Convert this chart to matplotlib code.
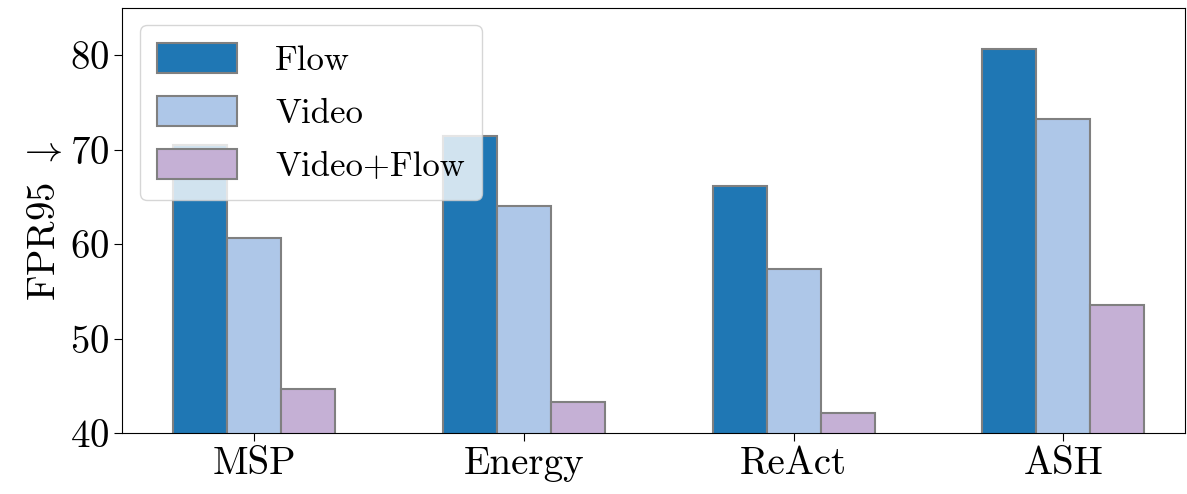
import numpy as np
import matplotlib
matplotlib.use('Agg')
import matplotlib.pyplot as plt

plt.rcParams['font.family'] = 'serif'
plt.rcParams['font.serif'] = ['cmr10']
plt.rcParams['mathtext.fontset'] = 'cm'
plt.rcParams['axes.formatter.use_mathtext'] = True

methods = ['MSP', 'Energy', 'ReAct', 'ASH']
flow = [70.5, 71.5, 66.2, 80.7]
video = [60.7, 64.0, 57.4, 73.2]
video_flow = [44.7, 43.3, 42.1, 53.6]

series = ['Flow', 'Video', 'Video+Flow']
colors = ['#1f77b4', '#aec7e8', '#c5b0d5']

x = np.arange(len(methods))
w = 0.2

fig = plt.figure(figsize=(11.87, 4.94), dpi=100)
ax = fig.add_axes([0.103, 0.123, 0.895, 0.861])

for i, (vals, lab, c) in enumerate(zip([flow, video, video_flow], series, colors)):
    ax.bar(x + (i - 1) * w, vals, w, color=c, edgecolor='gray', linewidth=1.5, label=lab)

ax.set_xticks(x)
ax.set_xticklabels(methods)
ax.set_yticks([40, 50, 60, 70, 80])
ax.set_ylim(40, 85)
ax.set_xlim(-0.49, 3.45)
ax.tick_params(labelsize=28, length=6)
ax.set_ylabel('FPR95 $\\downarrow$', fontsize=28)

ax.legend(loc='upper left', fontsize=25, handlelength=2.3, handleheight=0.95,
          labelspacing=0.55, handletextpad=1.1, borderpad=0.5, framealpha=0.8)

fig.savefig('out.png', dpi=100)
